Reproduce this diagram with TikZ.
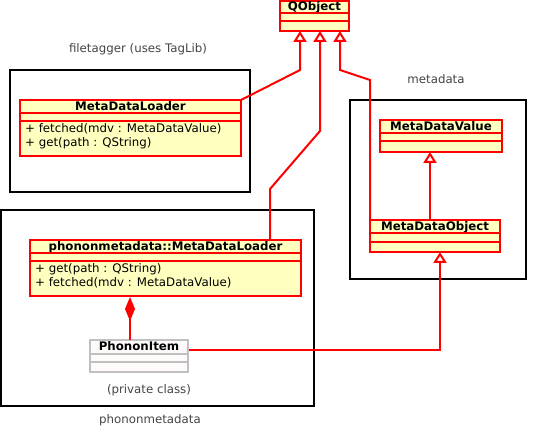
\documentclass[tikz,border=0pt]{standalone}
\usepackage{fontspec}
\setmainfont{DejaVu Sans}
\usetikzlibrary{arrows.meta}
\definecolor{umlred}{HTML}{FF0000}
\definecolor{umlfill}{HTML}{FFFFC0}
\definecolor{privfill}{HTML}{FFFAFA}
\definecolor{privline}{HTML}{C0C0C0}
\definecolor{labelgray}{HTML}{444444}
\tikzset{
  pkg/.style={draw=black, line width=2pt},
  cls/.style={draw=umlred, fill=umlfill, line width=2pt},
  privcls/.style={draw=privline, fill=privfill, line width=2pt},
  sep/.style={draw=umlred, line width=2pt},
  privsep/.style={draw=privline, line width=2pt},
  title/.style={font=\fontsize{11.8}{13}\selectfont\bfseries, inner sep=0pt, anchor=base},
  meth/.style={font=\fontsize{11.8}{13}\selectfont, inner sep=0pt, anchor=base west},
  pkglabel/.style={font=\fontsize{11.8}{13}\selectfont, text=labelgray, inner sep=0pt, anchor=base},
  conn/.style={draw=umlred, line width=2pt},
  inh/.style={conn, -{Triangle[open, length=11pt, width=13pt, line width=2pt]}},
  comp/.style={conn, -{Diamond[fill=umlred, length=24pt, width=10pt]}},
}
\begin{document}
\begin{tikzpicture}[x=1pt, y=-1pt]
\useasboundingbox (0,0) rectangle (550,430);

% packages
\draw[pkg] (10,70) rectangle (250,192);
\node[pkglabel] (lblft) at (138,53) {filetagger (uses TagLib)};
\draw[pkg] (1,210) rectangle (314,406);
\node[pkglabel] (lblpm) at (150,424) {phononmetadata};
\draw[pkg] (350,100) rectangle (526,279);
\node[pkglabel] (lblmd) at (436,84) {metadata};

% QObject
\path[cls] (280,1) rectangle (349,31);
\node[title] (qobj) at (314.5,11) {QObject};
\draw[sep] (280,13) -- (349,13);
\draw[sep] (280,21) -- (349,21);
\coordinate (qa) at (300,31);
\coordinate (qb) at (320,31);
\coordinate (qc) at (340,31);

% MetaDataLoader (filetagger)
\path[cls] (20,100) rectangle (241,156);
\node[title] (mdl) at (130.5,111) {MetaDataLoader};
\draw[sep] (20,113) -- (241,113);
\draw[sep] (20,121) -- (241,121);
\node[meth] (mdl1) at (25,133) {+ fetched(mdv : MetaDataValue)};
\node[meth] (mdl2) at (25,147) {+ get(path : QString)};
\coordinate (mdlc) at (241,100);

% phononmetadata::MetaDataLoader
\path[cls] (30,240) rectangle (301,296);
\node[title] (pml) at (165.5,251) {phononmetadata::MetaDataLoader};
\draw[sep] (30,253) -- (301,253);
\draw[sep] (30,261) -- (301,261);
\node[meth] (pml1) at (35,273) {+ get(path : QString)};
\node[meth] (pml2) at (35,287) {+ fetched(mdv : MetaDataValue)};
\coordinate (pmlt) at (270,240);
\coordinate (pmlb) at (130,297);

% PhononItem
\path[privcls] (90,340) rectangle (188,372);
\node[title] (pi) at (139,351) {PhononItem};
\draw[privsep] (90,354) -- (188,354);
\draw[privsep] (90,362) -- (188,362);
\coordinate (pit) at (130,340);
\coordinate (pir) at (189,350);
\node[pkglabel] (lblpriv) at (149,394) {(private class)};

% MetaDataValue
\path[cls] (380,120) rectangle (502,152);
\node[title] (mdv) at (441,130.5) {MetaDataValue};
\draw[sep] (380,133) -- (502,133);
\draw[sep] (380,141) -- (502,141);
\coordinate (mdvb) at (430,152);

% MetaDataObject
\path[cls] (370,220) rectangle (500,252);
\node[title] (mdo) at (435,230.5) {MetaDataObject};
\draw[sep] (370,233) -- (500,233);
\draw[sep] (370,242) -- (500,242);
\coordinate (mdot) at (430,220);
\coordinate (mdob) at (440,252);
\coordinate (mdotl) at (370,220);

% connectors
\draw[inh] (mdlc) -- (300,70) -- (qa);
\draw[inh] (pmlt) -- (270,189) -- (320,131) -- (qb);
\draw[inh] (mdotl) -- (370,80) -- (340,70) -- (qc);
\draw[inh] (mdot) -- (mdvb);
\draw[inh] (pir) -- (440,350) -- (mdob);
\draw[comp] (pit) -- (pmlb);
\end{tikzpicture}
\end{document}
